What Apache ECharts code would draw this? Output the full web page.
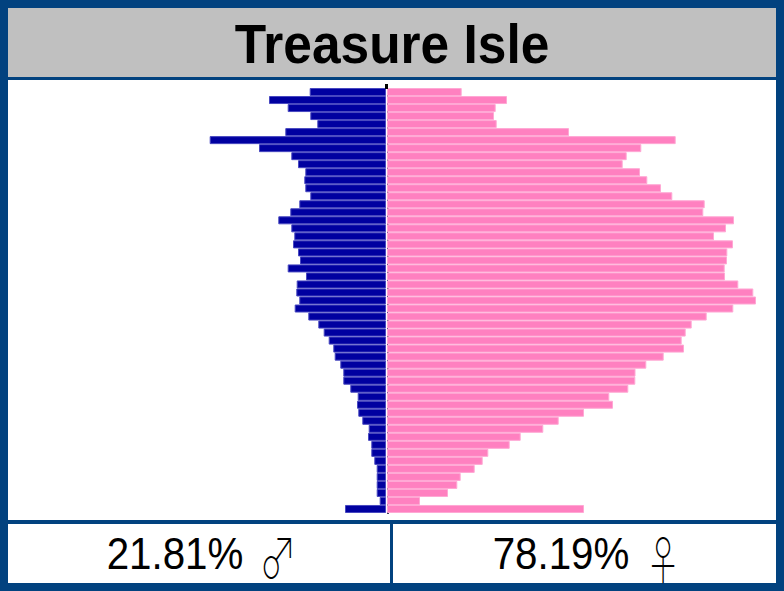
<!DOCTYPE html>
<html>
<head>
<meta charset="utf-8">
<script src="https://cdn.jsdelivr.net/npm/echarts@6/dist/echarts.min.js"></script>
<style>
html,body{margin:0;padding:0;background:#02427F;}
#chart{width:784px;height:591px;}
</style>
</head>
<body>
<div id="chart"></div>
<script>
// Age rows, listed from the bottom (youngest) to the top (oldest)
const ageGroups = Array.from({length: 53}, (_, i) => String(i));

// Values, listed top row first, then reversed for the axis
const maleTopDown = [76.3,117,98.3,75.7,68.7,100.7,176.3,127,94.7,88,80.7,81.7,80.7,75.7,86.7,95.7,107.7,94.7,91.7,93,88,86,98.3,80,89.3,89.7,86.7,91.3,77.7,67.7,62.3,57.3,52.7,51.3,45.7,42.7,42.7,35.7,28.3,29,27.7,23.7,17.3,18,14.7,14.7,11.7,9.3,9.3,9.3,9.3,6.3,41];
const femaleTopDown = [74.7,120,108.7,107,109.7,182,288.7,254.3,239.7,235.7,253,260.3,274,285.3,317.7,316.3,347,339,327,346,340.3,340,337.7,338,351.3,366.3,369,346.3,319.7,304.7,298.7,294.7,297,276.7,259.3,248.5,248.3,241.3,222.3,226,197,171.7,156.3,133.7,122.7,101.3,95.7,87.7,73.7,70.3,61,33,197];
const maleValues = maleTopDown.slice().reverse();
const femaleValues = femaleTopDown.slice().reverse();

const titleText = 'Treasure Isle';
const maleShare = '21.81%';
const femaleShare = '78.19%';
const maleSymbol = '\u2642';
const femaleSymbol = '\u2640';

const chart = echarts.init(document.getElementById('chart'), null, {renderer: 'svg'});
const FONT = '"Liberation Sans", Arial, sans-serif';
const SYM = '"Noto Sans CJK JP", "DejaVu Sans", sans-serif';
chart.setOption({
  backgroundColor: '#02427F',
  animation: false,
  graphic: [
    {type: 'rect', shape: {x: 8, y: 8, width: 768, height: 69}, style: {fill: '#C0C0C0'}, z: -10},
    {type: 'rect', shape: {x: 8, y: 80, width: 768, height: 440}, style: {fill: '#FFFFFF'}, z: -10},
    {type: 'rect', shape: {x: 8, y: 524, width: 382, height: 59}, style: {fill: '#FFFFFF'}, z: -10},
    {type: 'rect', shape: {x: 393, y: 524, width: 383, height: 59}, style: {fill: '#FFFFFF'}, z: -10},
    {type: 'rect', shape: {x: 385, y: 84, width: 3, height: 5}, style: {fill: '#000000'}, z: 10},
    {type: 'text', x: 392, y: 44, scaleX: 0.99, scaleY: 1.05, style: {text: titleText, font: 'bold 52px ' + FONT, lineHeight: 52, fill: '#000', textAlign: 'center', textVerticalAlign: 'middle'}},
    {type: 'text', x: 175, y: 554, scaleX: 0.96, scaleY: 1.06, style: {text: maleShare, font: '42px ' + FONT, lineHeight: 40, fill: '#000', textAlign: 'center', textVerticalAlign: 'middle'}},
    {type: 'text', x: 278, y: 554, scaleX: 0.85, scaleY: 1.25, style: {text: maleSymbol, font: '100 44px ' + SYM, lineHeight: 34, fill: '#000', textAlign: 'center', textVerticalAlign: 'middle'}},
    {type: 'text', x: 561, y: 554, scaleX: 0.96, scaleY: 1.06, style: {text: femaleShare, font: '42px ' + FONT, lineHeight: 40, fill: '#000', textAlign: 'center', textVerticalAlign: 'middle'}},
    {type: 'text', x: 663, y: 557, scaleX: 0.8, scaleY: 1.2, style: {text: femaleSymbol, font: '100 44px ' + SYM, lineHeight: 34, fill: '#000', textAlign: 'center', textVerticalAlign: 'middle'}}
  ],
  grid: [
    {left: 8, top: 88, width: 378, height: 425},
    {left: 387, top: 88, width: 389, height: 425}
  ],
  xAxis: [
    {gridIndex: 0, type: 'value', min: 0, max: 378, inverse: true, show: false},
    {gridIndex: 1, type: 'value', min: 0, max: 389, show: false}
  ],
  yAxis: [
    {gridIndex: 0, type: 'category', data: ageGroups, show: false},
    {gridIndex: 1, type: 'category', data: ageGroups,
      axisLine: {show: true, lineStyle: {color: '#000060', width: 1}},
      axisTick: {show: true, inside: true, length: 2, lineStyle: {color: '#404060'}},
      axisLabel: {show: false}, splitLine: {show: false}}
  ],
  series: [
    {name: 'Male', type: 'bar', xAxisIndex: 0, yAxisIndex: 0, data: maleValues,
      barCategoryGap: '0%', itemStyle: {color: '#0000A0', borderColor: '#4848C0', borderWidth: 1}},
    {name: 'Female', type: 'bar', xAxisIndex: 1, yAxisIndex: 1, data: femaleValues,
      barCategoryGap: '0%', itemStyle: {color: '#FF80C0', borderColor: '#FFA8D4', borderWidth: 1}}
  ]
});
</script>
</body>
</html>
